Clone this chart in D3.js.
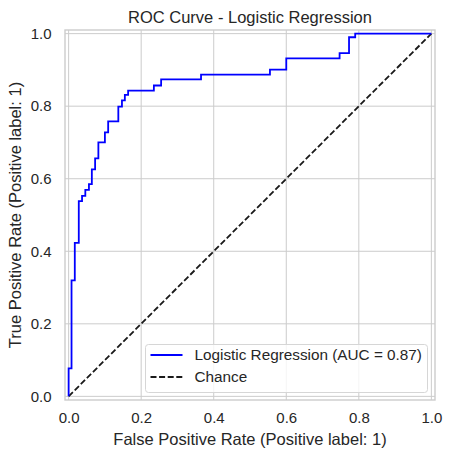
<!DOCTYPE html>
<html lang="en">
  <head>
    <meta charset="utf-8" />
    <title>ROC Curve</title>
    <script src="https://d3js.org/d3.v7.min.js"></script>
    <style>
      body { margin: 0; background: #fff; }
    </style>
  </head>
  <body>
    <svg id="roc" width="451" height="457"></svg>
    <script>
      // ROC points (step curve)
      const fpr = [0, 0, 0.008, 0.008, 0.017, 0.017, 0.028, 0.028, 0.037, 0.037, 0.046, 0.046,
        0.056, 0.056, 0.064, 0.064, 0.073, 0.073, 0.082, 0.082, 0.100, 0.100, 0.109, 0.109,
        0.137, 0.137, 0.147, 0.147, 0.155, 0.155, 0.164, 0.164, 0.235, 0.235, 0.255, 0.255,
        0.365, 0.365, 0.555, 0.555, 0.600, 0.600, 0.747, 0.747, 0.773, 0.773, 0.790, 0.790, 1.0];
      const tpr = [0, 0.077, 0.077, 0.320, 0.320, 0.423, 0.423, 0.538, 0.538, 0.553, 0.553, 0.569,
        0.569, 0.585, 0.585, 0.626, 0.626, 0.656, 0.656, 0.700, 0.700, 0.728, 0.728, 0.758,
        0.758, 0.799, 0.799, 0.816, 0.816, 0.831, 0.831, 0.843, 0.843, 0.857, 0.857, 0.874,
        0.874, 0.887, 0.887, 0.901, 0.901, 0.932, 0.932, 0.946, 0.946, 0.990, 0.990, 1.0, 1.0];
      const chance = [0, 1];
      const ticks = [0.0, 0.2, 0.4, 0.6, 0.8, 1.0];
      const legendLabels = ["Logistic Regression (AUC = 0.87)", "Chance"];

      const font = "Arial, 'Liberation Sans', sans-serif";
      const ink = "#262626";
      const svg = d3.select("#roc").attr("font-family", font);

      // plot frame
      const frame = { left: 65, right: 435, top: 30, bottom: 400 };

      const x = d3.scaleLinear().domain([-0.01, 1.01]).range([frame.left, frame.right]);
      const y = d3.scaleLinear().domain([-0.01, 1.01]).range([frame.bottom, frame.top]);

      // grid
      const grid = svg.append("g");
      grid.selectAll(".gx").data(ticks).enter().append("line")
        .attr("x1", d => x(d)).attr("x2", d => x(d))
        .attr("y1", frame.top).attr("y2", frame.bottom)
        .attr("stroke", "#cccccc").attr("stroke-width", 1);
      grid.selectAll(".gy").data(ticks).enter().append("line")
        .attr("y1", d => y(d)).attr("y2", d => y(d))
        .attr("x1", frame.left).attr("x2", frame.right)
        .attr("stroke", "#cccccc").attr("stroke-width", 1);

      // axes (labels only, seaborn whitegrid has no tick marks)
      const xAxis = svg.append("g")
        .attr("transform", `translate(0, ${frame.bottom})`)
        .call(d3.axisBottom(x).tickValues(ticks).tickFormat(d3.format(".1f")).tickSize(0).tickPadding(12.5));
      const yAxis = svg.append("g")
        .attr("transform", `translate(${frame.left}, 0)`)
        .call(d3.axisLeft(y).tickValues(ticks).tickFormat(d3.format(".1f")).tickSize(0).tickPadding(13.5));
      [xAxis, yAxis].forEach(a => {
        a.select(".domain").remove();
        a.selectAll("text").attr("fill", ink).style("font-size", "15px").style("font-family", font);
      });

      // spines
      svg.append("rect")
        .attr("x", frame.left).attr("y", frame.top)
        .attr("width", frame.right - frame.left).attr("height", frame.bottom - frame.top)
        .attr("fill", "none").attr("stroke", "#cccccc").attr("stroke-width", 1.4);

      const line = d3.line().x(d => x(d[0])).y(d => y(d[1]));

      // chance line
      svg.append("path")
        .datum(chance.map((d, i) => [d, chance[i]]))
        .attr("d", line)
        .attr("fill", "none").attr("stroke", "#1a1a1a")
        .attr("stroke-width", 1.8).attr("stroke-dasharray", "6,2.6");

      // ROC curve
      svg.append("path")
        .datum(fpr.map((d, i) => [d, tpr[i]]))
        .attr("d", line)
        .attr("fill", "none").attr("stroke", "#0000ff")
        .attr("stroke-width", 1.8);

      // legend
      const lg = svg.append("g").attr("transform", "translate(145.5, 344.5)");
      lg.append("rect")
        .attr("width", 282).attr("height", 48).attr("rx", 3)
        .attr("fill", "#ffffff").attr("fill-opacity", 0.8)
        .attr("stroke", "#d6d6d6").attr("stroke-width", 1);
      const styles = [{ c: "#0000ff", dash: null }, { c: "#1a1a1a", dash: "6,2.6" }];
      legendLabels.forEach((t, i) => {
        const yy = 10.5 + i * 22;
        lg.append("line")
          .attr("x1", 5).attr("x2", 37).attr("y1", yy).attr("y2", yy)
          .attr("stroke", styles[i].c).attr("stroke-width", 1.8)
          .attr("stroke-dasharray", styles[i].dash);
        lg.append("text")
          .attr("x", 49).attr("y", yy + 5.3)
          .attr("fill", ink).attr("font-size", "15.3px")
          .text(t);
      });

      // title and axis labels
      svg.append("text")
        .attr("x", (frame.left + frame.right) / 2).attr("y", 22.7)
        .attr("text-anchor", "middle").attr("fill", ink).attr("font-size", "16.5px")
        .text("ROC Curve - Logistic Regression");
      svg.append("text")
        .attr("x", (frame.left + frame.right) / 2).attr("y", 445)
        .attr("text-anchor", "middle").attr("fill", ink).attr("font-size", "16.5px")
        .text("False Positive Rate (Positive label: 1)");
      svg.append("text")
        .attr("transform", `translate(20.7, ${(frame.top + frame.bottom) / 2}) rotate(-90)`)
        .attr("text-anchor", "middle").attr("fill", ink).attr("font-size", "16.5px")
        .text("True Positive Rate (Positive label: 1)");
    </script>
  </body>
</html>
